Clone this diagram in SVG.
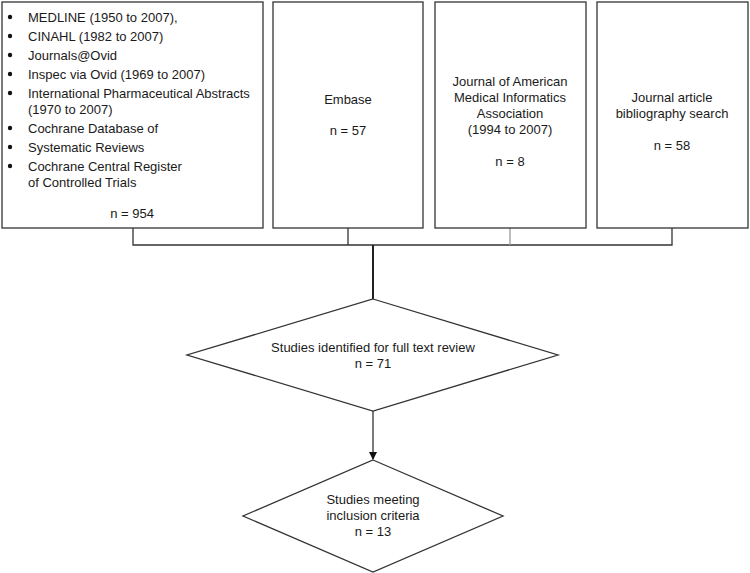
<svg xmlns="http://www.w3.org/2000/svg" width="750" height="573" viewBox="0 0 750 573">
<defs>
<style>
.box{fill:#fff;stroke:#333;stroke-width:1.3}
.t{font-family:"Liberation Sans",Arial,sans-serif;font-size:13px;fill:#1a1a1a}
.c{text-anchor:middle}
.ln{fill:none;stroke:#333;stroke-width:1.3}
</style>
<marker id="ah" markerWidth="8" markerHeight="8" refX="7" refY="4" orient="auto" markerUnits="userSpaceOnUse">
<path d="M0,0 L8,4 L0,8 z" fill="#111"/>
</marker>
</defs>
<rect width="750" height="573" fill="#fff"/>
<g id="connectors">
<path class="ln" d="M133,228 V245 H672 V228"/>
<path class="ln" d="M348,228 V245"/>
<path d="M510,228 V245" fill="none" stroke="#999" stroke-width="1.3"/>
<path d="M373,245 V299" fill="none" stroke="#222" stroke-width="2"/>
<path class="ln" d="M373,411 V459" marker-end="url(#ah)"/>
</g>
<g id="box1">
<rect class="box" x="2" y="2" width="261" height="226"/>
<g fill="#111">
<circle cx="10" cy="17" r="2.2"/><circle cx="10" cy="36" r="2.2"/><circle cx="10" cy="55" r="2.2"/><circle cx="10" cy="74" r="2.2"/><circle cx="10" cy="93" r="2.2"/><circle cx="10" cy="128" r="2.2"/><circle cx="10" cy="147" r="2.2"/><circle cx="10" cy="166" r="2.2"/>
</g>
<text class="t" x="28" y="21.5">MEDLINE (1950 to 2007),</text>
<text class="t" x="28" y="40.5">CINAHL (1982 to 2007)</text>
<text class="t" x="28" y="59.5">Journals@Ovid</text>
<text class="t" x="28" y="78.5">Inspec via Ovid (1969 to 2007)</text>
<text class="t" x="28" y="97.5">International Pharmaceutical Abstracts</text>
<text class="t" x="28" y="113.5">(1970 to 2007)</text>
<text class="t" x="28" y="132.5">Cochrane Database of</text>
<text class="t" x="28" y="151.5">Systematic Reviews</text>
<text class="t" x="28" y="170.5">Cochrane Central Register</text>
<text class="t" x="28" y="186.5">of Controlled Trials</text>
<text class="t c" x="132" y="218">n = 954</text>
</g>
<g id="box2">
<rect class="box" x="273" y="2" width="150" height="226"/>
<text class="t c" x="348" y="103.5">Embase</text>
<text class="t c" x="348" y="134.5">n = 57</text>
</g>
<g id="box3">
<rect class="box" x="435" y="2" width="151" height="226"/>
<text class="t c" x="510" y="85.5">Journal of American</text>
<text class="t c" x="510" y="101.5">Medical Informatics</text>
<text class="t c" x="510" y="117.5">Association</text>
<text class="t c" x="510" y="133.5">(1994 to 2007)</text>
<text class="t c" x="510" y="165.5">n = 8</text>
</g>
<g id="box4">
<rect class="box" x="597" y="2" width="151" height="226"/>
<text class="t c" x="672" y="101.5">Journal article</text>
<text class="t c" x="672" y="117.5">bibliography search</text>
<text class="t c" x="672" y="149.5">n = 58</text>
</g>
<g id="diamond1">
<polygon class="box" points="373,299 558,355 373,411 187,355"/>
<text class="t c" x="373" y="351.5">Studies identified for full text review</text>
<text class="t c" x="373" y="367.5">n = 71</text>
</g>
<g id="diamond2">
<polygon class="box" points="373,460 503,516 373,572 243,516"/>
<text class="t c" x="373" y="503.5">Studies meeting</text>
<text class="t c" x="373" y="519.5">inclusion criteria</text>
<text class="t c" x="373" y="535.5">n = 13</text>
</g>
</svg>
